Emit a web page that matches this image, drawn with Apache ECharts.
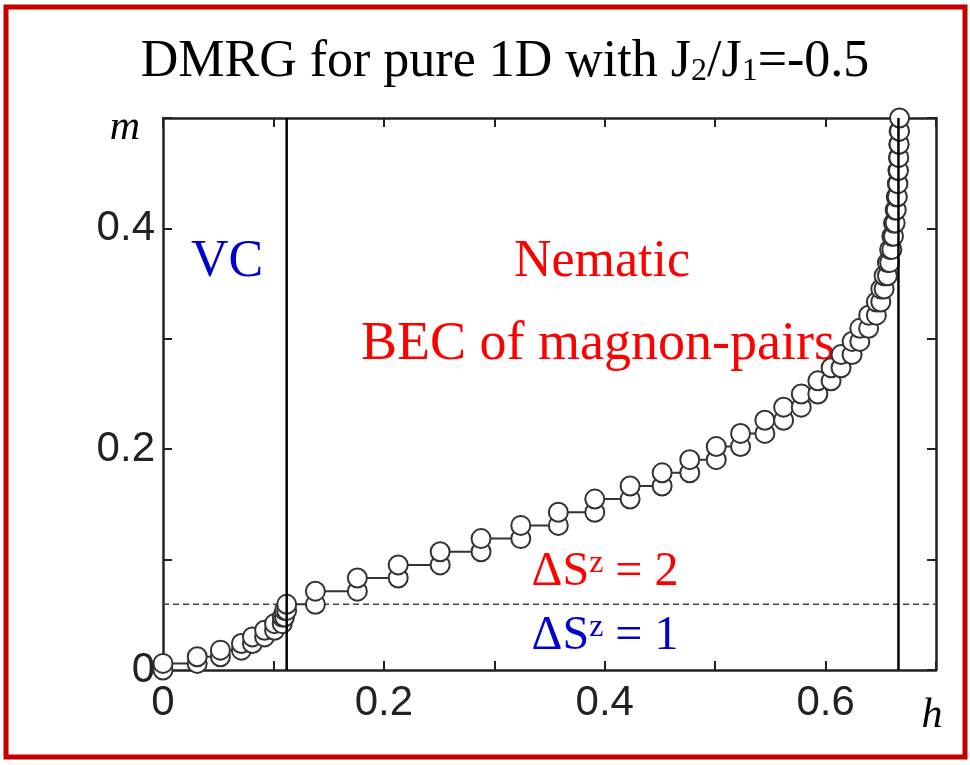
<!DOCTYPE html>
<html>
<head>
<meta charset="utf-8">
<script src="https://cdn.jsdelivr.net/npm/echarts@6/dist/echarts.min.js"></script>
<style>
  html, body { margin: 0; padding: 0; background: #fff; }
  #chart { width: 970px; height: 765px; }
</style>
</head>
<body>
<div id="chart"></div>
<script>
// field h at each step of the DMRG curve (two points per step: before / after the jump)
const stepH = [0, 0.031, 0.052, 0.071, 0.081, 0.092, 0.101, 0.108, 0.110, 0.112,
  0.138, 0.176, 0.213, 0.251, 0.288, 0.324, 0.358, 0.391, 0.423, 0.452,
  0.477, 0.501, 0.523, 0.545, 0.562, 0.578, 0.593, 0.605, 0.614, 0.624,
  0.631, 0.639, 0.646, 0.650, 0.653, 0.656, 0.658, 0.660, 0.6615, 0.663,
  0.664, 0.665, 0.6655, 0.666, 0.6663, 0.6666, 0.667]
// magnetization plateaus m
const mLevels = [0, 0.006, 0.012, 0.018, 0.024, 0.030, 0.036, 0.042, 0.048, 0.054,
  0.0595, 0.0714, 0.0833, 0.0952, 0.1071, 0.1190, 0.1310, 0.1429, 0.1548, 0.1667,
  0.1786, 0.1905, 0.2024, 0.2143, 0.2262, 0.2381, 0.2500, 0.2619, 0.2738, 0.2857,
  0.2976, 0.3095, 0.3214, 0.3333, 0.3452, 0.3571, 0.3690, 0.3810, 0.3929, 0.4048,
  0.4167, 0.4286, 0.4405, 0.4524, 0.4643, 0.4762, 0.4881, 0.5]
const boundaryH = [0.112, 0.666]   // VC | nematic | saturation
const crossoverM = 0.0595          // dSz=1 / dSz=2 border
const xTickLabels = ['0', '', '0.2', '', '0.4', '', '0.6', '']
const yTickLabels = ['0', '', '0.2', '', '0.4', '']

const points = []
stepH.forEach((h, i) => {
  points.push([h, mLevels[i]])
  points.push([h, mLevels[i + 1]])
})

const serif = 'Liberation Serif'
const axisColor = '#222'

function boxAxis(pos, min, max, labels) {
  return {
    type: 'value',
    position: pos,
    min: min,
    max: max,
    interval: 0.1,
    axisLine: { show: true, onZero: false, lineStyle: { color: axisColor, width: 2.5 } },
    axisTick: { show: true, inside: true, length: 9, lineStyle: { color: axisColor, width: 2 } },
    axisLabel: labels ? {
      show: true,
      color: axisColor,
      fontFamily: 'Liberation Sans',
      fontSize: 42,
      margin: pos === 'bottom' ? 12 : 8,
      formatter: (v, idx) => labels[idx]
    } : { show: false },
    splitLine: { show: false }
  }
}

const chart = echarts.init(document.getElementById('chart'))
chart.setOption({
  animation: false,
  backgroundColor: '#fff',
  grid: { left: 163, right: 34, top: 118, bottom: 95, containLabel: false },
  xAxis: [boxAxis('bottom', 0, 0.7, xTickLabels), boxAxis('top', 0, 0.7, null)],
  yAxis: [boxAxis('left', 0, 0.5, yTickLabels), boxAxis('right', 0, 0.5, null)],
  series: [
    {
      type: 'line',
      data: [[0, crossoverM], [0.7, crossoverM]],
      showSymbol: false,
      lineStyle: { color: '#444', width: 1.5, type: [6, 4] },
      z: 1
    },
    {
      type: 'line',
      data: points,
      symbol: 'circle',
      symbolSize: 19,
      showAllSymbol: true,
      lineStyle: { color: '#333', width: 2 },
      itemStyle: { color: '#fff', borderColor: '#333', borderWidth: 2 },
      z: 3
    },
    {
      type: 'line',
      data: [[boundaryH[0], 0], [boundaryH[0], 0.5]],
      showSymbol: false,
      lineStyle: { color: '#000', width: 2.5 },
      z: 5
    },
    {
      type: 'line',
      data: [[boundaryH[1], 0], [boundaryH[1], 0.5]],
      showSymbol: false,
      lineStyle: { color: '#000', width: 2.5 },
      z: 5
    }
  ],
  graphic: [
    {
      type: 'rect',
      shape: { x: 6, y: 7, width: 959, height: 750 },
      style: { fill: 'none', stroke: '#c40000', lineWidth: 5 },
      z: 10
    },
    {
      type: 'text', x: 505, y: 62,
      style: {
        text: 'DMRG for pure 1D with J{sub|2}/J{sub|1}=-0.5',
        font: '52px "Liberation Serif"', fill: '#000',
        align: 'center', verticalAlign: 'middle',
        rich: { sub: { fontSize: 32, fontFamily: serif, verticalAlign: 'bottom', lineHeight: 42 } }
      }
    },
    { type: 'text', x: 125, y: 128, style: { text: 'm', font: 'italic 42px "Liberation Serif"', fill: '#000', align: 'center', verticalAlign: 'middle' } },
    { type: 'text', x: 932, y: 716, style: { text: 'h', font: 'italic 42px "Liberation Serif"', fill: '#000', align: 'center', verticalAlign: 'middle' } },
    { type: 'text', x: 227, y: 262, style: { text: 'VC', font: '52px "Liberation Serif"', fill: '#0000cc', align: 'center', verticalAlign: 'middle' } },
    { type: 'text', x: 602, y: 262, style: { text: 'Nematic', font: '52px "Liberation Serif"', fill: '#ff0000', align: 'center', verticalAlign: 'middle' } },
    { type: 'text', x: 598, y: 345, style: { text: 'BEC of magnon-pairs', font: '54px "Liberation Serif"', fill: '#ff0000', align: 'center', verticalAlign: 'middle' } },
    {
      type: 'text', x: 605, y: 572,
      style: {
        text: 'ΔS{sup|z} = 2', font: '48px "Liberation Serif"', fill: '#ff0000',
        align: 'center', verticalAlign: 'middle',
        rich: { sup: { fontSize: 32, fontFamily: serif, verticalAlign: 'top', lineHeight: 30 } }
      }
    },
    {
      type: 'text', x: 605, y: 636,
      style: {
        text: 'ΔS{sup|z} = 1', font: '48px "Liberation Serif"', fill: '#0000cc',
        align: 'center', verticalAlign: 'middle',
        rich: { sup: { fontSize: 32, fontFamily: serif, verticalAlign: 'top', lineHeight: 30 } }
      }
    }
  ]
})
</script>
</body>
</html>
